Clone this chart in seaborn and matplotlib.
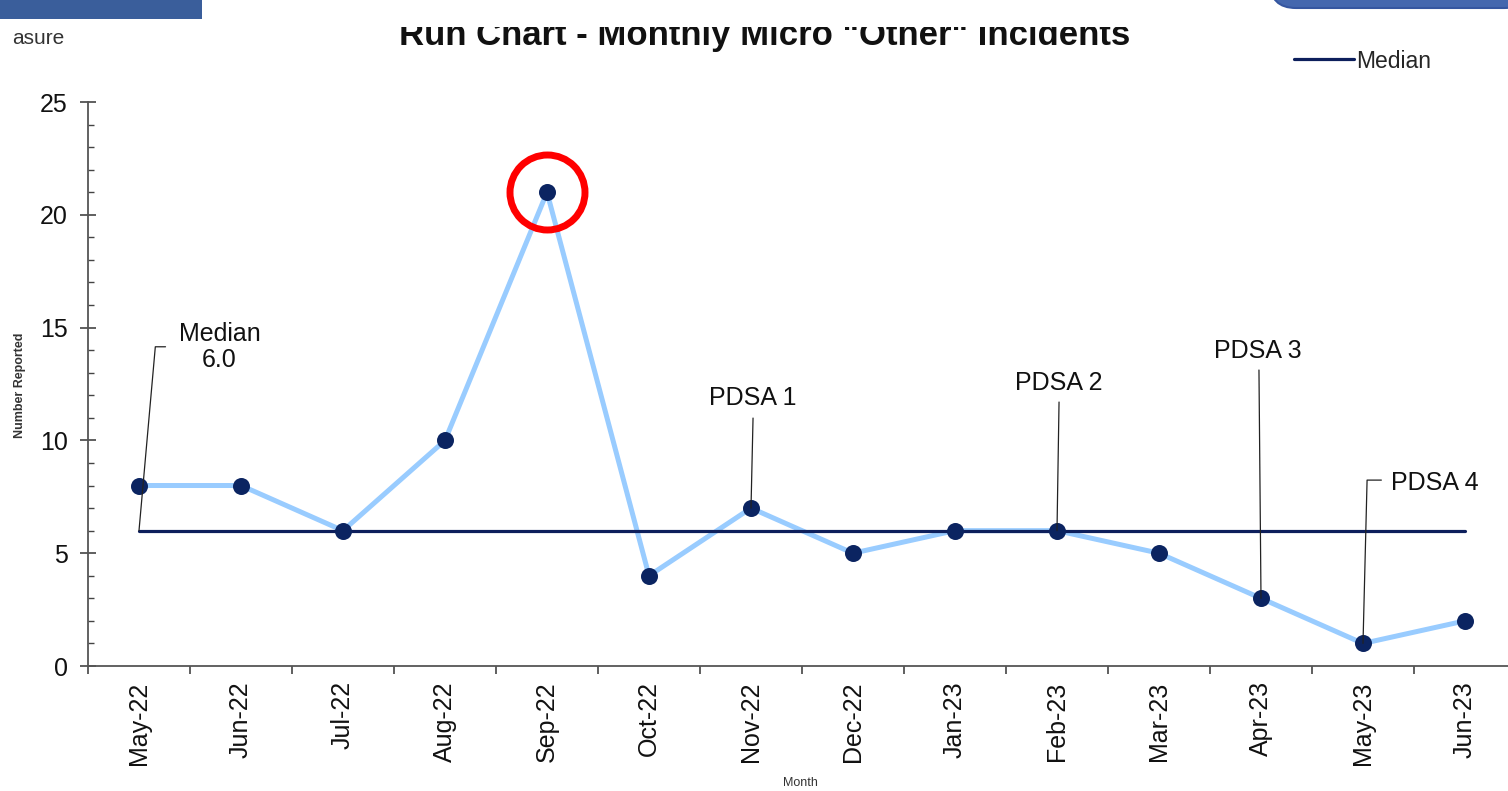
import numpy as np
import pandas as pd
import seaborn as sns
import matplotlib
matplotlib.use("Agg")
import matplotlib.pyplot as plt
from matplotlib.patches import Rectangle, FancyBboxPatch
from matplotlib.transforms import IdentityTransform
from matplotlib.lines import Line2D

# ---------------- data ----------------
months = ["May-22", "Jun-22", "Jul-22", "Aug-22", "Sep-22", "Oct-22", "Nov-22",
          "Dec-22", "Jan-23", "Feb-23", "Mar-23", "Apr-23", "May-23", "Jun-23"]
incidents = [8, 8, 6, 10, 21, 4, 7, 5, 6, 6, 5, 3, 1, 2]
median_value = float(np.median(incidents))
pdsa_labels = ["PDSA 1", "PDSA 2", "PDSA 3", "PDSA 4"]
pdsa_months = ["Nov-22", "Feb-23", "Apr-23", "May-23"]
highlight_month = "Sep-22"

title = 'Run Chart - Monthly Micro "Other" Incidents'

# ---------------- style ----------------
sns.set_style("ticks")
plt.rcParams['font.family'] = ['Liberation Sans', 'DejaVu Sans']

NAVY = "#0b2461"
MEDNAVY = "#0d1f5c"
LIGHT = "#99ccff"

W, H, DPI = 1508, 791, 100
fig = plt.figure(figsize=(W / DPI, H / DPI), dpi=DPI)
fig.patch.set_facecolor("white")

def px_to_fig(x, y):
    return x / W, 1 - y / H

ax_left, ax_right = 88, 1516
ax_top, ax_bottom = 102, 666
ax = fig.add_axes([ax_left / W, (H - ax_bottom) / H,
                   (ax_right - ax_left) / W, (ax_bottom - ax_top) / H])

df = pd.DataFrame({"month": months, "value": incidents})
df["idx"] = np.arange(len(months))
df["median"] = median_value

# data line
sns.lineplot(data=df, x="idx", y="value", ax=ax, color=LIGHT, lw=3.6,
             zorder=2, legend=False)
# median line
sns.lineplot(data=df, x="idx", y="median", ax=ax, color=MEDNAVY, lw=2.3,
             zorder=3, legend=False)
# markers
sns.scatterplot(data=df, x="idx", y="value", ax=ax, color=NAVY, s=150,
                edgecolor=NAVY, linewidth=0, zorder=4, legend=False)

# highlight circle
hi = months.index(highlight_month)
ax.plot([hi], [incidents[hi]], marker="o", markersize=54, markerfacecolor="none",
        markeredgecolor="#ff0000", markeredgewidth=5, zorder=5, clip_on=False)

ax.set_xlim(-0.5, len(months) - 0.5)
ax.set_ylim(0, 25)
ax.set_xlabel("")
ax.set_ylabel("")

# x axis: labels at centres, ticks at boundaries
ax.set_xticks(np.arange(len(months)))
ax.set_xticklabels(months, rotation=90, fontsize=18, color="#111111")
ax.set_xticks(np.arange(len(months) + 1) - 0.5, minor=True)
ax.tick_params(axis="x", which="major", length=0, pad=11)
ax.tick_params(axis="x", which="minor", direction="out", length=6, width=1.2,
               color="#444444")

# y axis
ax.set_yticks(np.arange(0, 26, 5))
ax.set_yticklabels([str(v) for v in range(0, 26, 5)], fontsize=18, color="#111111")
ax.set_yticks(np.arange(0, 26, 1), minor=True)
ax.tick_params(axis="y", which="major", direction="inout", length=11, width=1.2,
               color="#444444", pad=9)
ax.tick_params(axis="y", which="minor", direction="in", length=4.5, width=1.0,
               color="#444444")

for s in ["top", "right"]:
    ax.spines[s].set_visible(False)
for s in ["left", "bottom"]:
    ax.spines[s].set_color("#555555")
    ax.spines[s].set_linewidth(1.3)

# ---------------- annotations ----------------
LC = "#222222"
# Median annotation
ax.text(0.79, 14.15, f"Median\n{median_value:.1f}", ha="center", va="center",
        fontsize=18, color="#111111", linespacing=1.1)
ax.plot([0.26, 0.16, 0], [14.15, 14.15, median_value], color=LC, lw=0.9, zorder=6)

# PDSA annotations: (label x, label y, leader top x, leader top y)
pdsa_pos = [(6.02, 11.88, 6.02, 10.99),
            (9.02, 12.55, 9.02, 11.70),
            (10.97, 13.97, 10.98, 13.12)]
for lab, mon, (tx, ty, lx, ly) in zip(pdsa_labels[:3], pdsa_months[:3], pdsa_pos):
    i = months.index(mon)
    ax.text(tx, ty, lab, ha="center", va="center", fontsize=18, color="#111111")
    ax.plot([lx, i], [ly, incidents[i]], color=LC, lw=0.9, zorder=6)

i4 = months.index(pdsa_months[3])
ax.text(12.27, 8.11, pdsa_labels[3], ha="left", va="center", fontsize=18,
        color="#111111")
ax.plot([12.18, 12.04, i4], [8.24, 8.24, incidents[i4]], color=LC, lw=0.9, zorder=6)

# ---------------- figure-level texts ----------------
fig.text(*px_to_fig(765, 45), title, ha="center", va="baseline", fontsize=25,
         fontweight="bold", color="#111111", zorder=1)
fig.text(*px_to_fig(20, 385), "Number Reported", rotation=90, ha="center",
         va="center", fontsize=9, fontweight="bold", color="#333333")
fig.text(*px_to_fig(800, 789), "Month", ha="center", va="bottom", fontsize=9,
         color="#333333")
fig.text(*px_to_fig(12, 44), "asure", ha="left", va="baseline", fontsize=15,
         color="#333333")

# legend
handle = Line2D([0], [0], color=MEDNAVY, lw=2.3)
fig.legend([handle], ["Median"], loc="center left",
           bbox_to_anchor=px_to_fig(1294, 61), frameon=False, fontsize=16.5,
           handlelength=2.6, handletextpad=0.1, borderpad=0, borderaxespad=0)

# white band covering the upper part of the title (as in the screenshot)
fig.patches.append(Rectangle((370, H - 27), 800, 27, transform=IdentityTransform(),
                             facecolor="white", edgecolor="none", zorder=9))
# decorative header shapes
fig.patches.append(Rectangle((0, H - 19), 202, 19, transform=IdentityTransform(),
                             facecolor="#3a5e9b", edgecolor="none", zorder=10))
fig.patches.append(FancyBboxPatch((1270, H - 8), 260, 60,
                                  boxstyle="round,pad=0,rounding_size=26",
                                  transform=IdentityTransform(),
                                  facecolor="#4467ae", edgecolor="#3556a0",
                                  lw=1.5, zorder=10))

fig.savefig("out.png", dpi=DPI)
